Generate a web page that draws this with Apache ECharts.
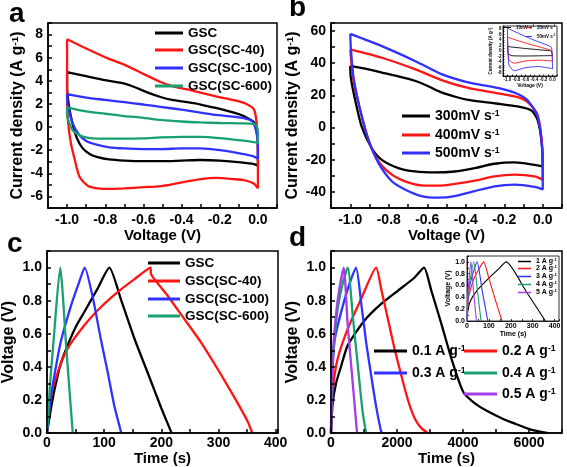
<!DOCTYPE html>
<html><head><meta charset="utf-8">
<script src="https://cdn.jsdelivr.net/npm/echarts@6.0.0/dist/echarts.min.js"></script>
<style>html,body{margin:0;padding:0;background:#fff}#c{width:567px;height:467px}</style>
</head><body><div id="c"></div>
<script>
// ---------- data: panel a (CV, current density vs voltage) ----------
const a_GSC = [[-1.0,4.75],[-0.9,4.4],[-0.8,4.05],[-0.7,3.75],[-0.63,3.35],[-0.58,3.0],[-0.51,2.6],[-0.45,2.35],[-0.37,2.15],[-0.3,1.95],[-0.22,1.65],[-0.15,1.35],[-0.09,1.05],[-0.05,0.75],[-0.02,0.4],[-0.005,-0.5],[0,-2.0],[0,-3.35],[-0.02,-3.2],[-0.09,-3.05],[-0.2,-2.9],[-0.3,-2.85],[-0.4,-2.9],[-0.5,-2.95],[-0.6,-2.95],[-0.7,-2.9],[-0.78,-2.8],[-0.84,-2.6],[-0.88,-2.35],[-0.92,-1.8],[-0.95,-0.9],[-0.97,0.2],[-0.99,1.8],[-1.0,3.5],[-1.0,4.75]];
const a_SC40 = [[-1.0,7.6],[-0.9,6.8],[-0.78,5.9],[-0.7,5.4],[-0.6,4.6],[-0.51,3.9],[-0.44,3.5],[-0.37,3.25],[-0.22,2.65],[-0.12,2.3],[-0.06,2.0],[-0.02,1.5],[-0.005,0],[0,-3],[0,-5.3],[-0.02,-4.9],[-0.07,-4.6],[-0.13,-4.5],[-0.22,-4.4],[-0.3,-4.5],[-0.37,-4.7],[-0.45,-4.95],[-0.51,-5.1],[-0.6,-5.2],[-0.7,-5.3],[-0.78,-5.35],[-0.84,-5.3],[-0.89,-5.1],[-0.935,-4.3],[-0.96,-2.8],[-0.98,-1.4],[-0.995,0.5],[-1.0,3],[-1.0,7.6]];
const a_SC100 = [[-1.0,2.85],[-0.9,2.55],[-0.8,2.35],[-0.7,2.15],[-0.6,1.95],[-0.51,1.75],[-0.4,1.5],[-0.3,1.25],[-0.22,1.05],[-0.13,0.9],[-0.07,0.75],[-0.03,0.5],[-0.01,-0.3],[0,-1.5],[0,-2.75],[-0.02,-2.55],[-0.09,-2.3],[-0.2,-2.0],[-0.3,-1.85],[-0.4,-1.85],[-0.51,-1.9],[-0.6,-1.9],[-0.7,-1.85],[-0.78,-1.75],[-0.85,-1.5],[-0.9,-1.2],[-0.94,-0.6],[-0.97,0.3],[-0.99,1.4],[-1.0,2.3],[-1.0,2.85]];
const a_SC600 = [[-1.0,1.7],[-0.9,1.35],[-0.8,1.15],[-0.7,0.95],[-0.6,0.8],[-0.51,0.62],[-0.4,0.48],[-0.3,0.4],[-0.2,0.35],[-0.1,0.32],[-0.02,0.28],[-0.005,0.0],[0,-0.5],[0,-1.4],[-0.02,-1.3],[-0.09,-1.15],[-0.2,-0.95],[-0.3,-0.85],[-0.4,-0.85],[-0.51,-0.9],[-0.6,-0.97],[-0.7,-1.0],[-0.8,-1.0],[-0.88,-0.95],[-0.93,-0.75],[-0.97,-0.3],[-0.99,0.4],[-1.0,1.0],[-1.0,1.7]];
// ---------- panel b ----------
const b_300 = [[-1.0,38.3],[-0.9,36],[-0.836,34.2],[-0.75,31.8],[-0.664,29.1],[-0.6,26],[-0.526,21.9],[-0.45,19],[-0.388,17.2],[-0.3,15.8],[-0.233,14.8],[-0.13,13.1],[-0.06,10.7],[-0.026,4.5],[-0.005,-9.8],[0,-24.2],[-0.043,-23.2],[-0.147,-21.7],[-0.25,-22.5],[-0.353,-25.2],[-0.457,-27.3],[-0.56,-27.9],[-0.664,-27.3],[-0.75,-25.2],[-0.836,-20.1],[-0.888,-12.9],[-0.94,0.4],[-0.974,16.8],[-0.997,31.1],[-1.0,38.3]];
const b_400 = [[-1.0,48.6],[-0.836,43.4],[-0.664,36.3],[-0.526,29.5],[-0.388,24.6],[-0.233,21.3],[-0.13,18.9],[-0.078,15.8],[-0.026,7.6],[-0.003,-11.9],[0,-32.4],[-0.043,-30.3],[-0.147,-29.3],[-0.25,-30.3],[-0.353,-33],[-0.457,-35],[-0.543,-36.1],[-0.63,-35.9],[-0.716,-33.4],[-0.784,-29.3],[-0.853,-21.1],[-0.905,-7.8],[-0.948,10.7],[-0.983,29.1],[-1.0,48.6]];
const b_500 = [[-1.0,58.2],[-0.836,50.6],[-0.664,41.4],[-0.526,33.2],[-0.388,28.1],[-0.233,24.6],[-0.13,20.9],[-0.078,16.8],[-0.026,6.6],[-0.003,-13.9],[0,-38.5],[-0.043,-36.9],[-0.147,-35.5],[-0.25,-36.5],[-0.353,-39.5],[-0.457,-42.6],[-0.543,-43.6],[-0.63,-42.6],[-0.716,-38.5],[-0.784,-33.4],[-0.853,-22.1],[-0.905,-7.8],[-0.948,10.7],[-0.983,31.1],[-0.997,49.6],[-1.0,58.2]];
// inset b
const ib_10 = [[-1.0,1.6],[-0.6,0.9],[-0.2,0.3],[-0.03,0.0],[0,-1.6],[-0.2,-1.7],[-0.6,-1.8],[-0.9,-1.7],[-0.98,-1.0],[-1.0,1.6]];
const ib_30 = [[-1.0,4.9],[-0.5,2.4],[-0.1,0.6],[-0.02,0.0],[0,-3.6],[-0.3,-3.3],[-0.6,-3.6],[-0.85,-4.4],[-0.97,-3.0],[-1.0,4.9]];
const ib_50 = [[-1.0,8.2],[-0.5,4.5],[-0.1,2.0],[-0.02,1.2],[0,-6.4],[-0.3,-5.6],[-0.6,-6.0],[-0.85,-7.1],[-0.97,-5.0],[-1.0,8.2]];
// ---------- panel c (GCD, voltage vs time) ----------
const c_GSC = [[0,0],[7,0.15],[13,0.26],[24,0.42],[36,0.53],[50,0.64],[65,0.73],[88,0.87],[109,1.0],[130,0.8],[153,0.57],[180,0.33],[200,0.15],[218,0]];
const c_SC40 = [[0,0],[7,0.22],[19,0.37],[36,0.51],[65,0.65],[94,0.76],[123,0.85],[153,0.93],[181,1.0],[182,0.96],[211,0.83],[240,0.69],[269,0.55],[298,0.39],[327,0.22],[351,0.07],[359,0]];
const c_SC100 = [[0,0],[6,0.2],[13,0.35],[24,0.55],[42,0.77],[55,0.9],[66,1.0],[80,0.82],[94,0.57],[106,0.37],[118,0.16],[130,0]];
const c_SC600 = [[0,0],[5,0.28],[12,0.58],[23,1.0],[34,0.5],[45,0]];
// ---------- panel d ----------
const d_01 = [[0,0],[50,0.18],[152,0.3],[300,0.4],[507,0.53],[1014,0.68],[1520,0.78],[2027,0.86],[2534,0.94],[2818,1.0],[3041,0.86],[3345,0.66],[3649,0.45],[4004,0.25],[4359,0.18],[4764,0.13],[5170,0.09],[5575,0.057],[6082,0.02],[6589,0]];
const d_02 = [[0,0],[50,0.25],[203,0.45],[507,0.63],[912,0.81],[1369,1.0],[1521,0.87],[1723,0.69],[1926,0.51],[2129,0.35],[2331,0.2],[2534,0.09],[2737,0.03],[2940,0]];
const d_03 = [[0,0],[30,0.3],[101,0.55],[253,0.69],[507,0.87],[760,1.0],[912,0.79],[1064,0.55],[1216,0.35],[1368,0.16],[1520,0.01],[1571,0]];
const d_04 = [[0,0],[30,0.35],[100,0.55],[203,0.75],[350,0.9],[507,1.0],[659,0.71],[811,0.41],[963,0.12],[1064,0]];
const d_05 = [[0,0],[30,0.4],[100,0.6],[200,0.8],[385,1.0],[507,0.65],[659,0.3],[790,0]];
// inset d
const id_1 = [[0,0],[5,0.2],[18,0.36],[49,0.53],[95,0.71],[141,0.87],[179,1.0],[270,0.5],[358,0]];
const id_2 = [[0,0],[3,0.25],[10,0.45],[30,0.7],[50,0.85],[76,1.0],[100,0.72],[130,0.35],[160,0]];
const id_3 = [[0,0],[3,0.3],[10,0.55],[25,0.78],[46,1.0],[70,0.5],[95,0]];
const id_4 = [[0,0],[3,0.35],[10,0.6],[31,1.0],[48,0.5],[64,0]];
const id_5 = [[0,0],[3,0.4],[8,0.65],[18,1.0],[30,0.5],[43,0]];

// names
const namesA = ['GSC','GSC(SC-40)','GSC(SC-100)','GSC(SC-600)'];
const namesB = ['300mV s-1','400mV s-1','500mV s-1'];
const namesIB = ['10mV s-1','30mV s-1','50mV s-1'];
const namesC = ['GSC ','GSC(SC-40) ','GSC(SC-100) ','GSC(SC-600) '];
const namesD = ['0.1 A g-1','0.2 A g-1','0.3 A g-1','0.4 A g-1','0.5 A g-1'];
const namesID = ['1 A g-1','2 A g-1','3 A g-1','4 A g-1','5 A g-1'];

const FONT = 'Liberation Sans';
const BLACK = '#000000', RED = '#ff1414', BLUE = '#3030ff', GREEN = '#18a070', PURPLE = '#a33ee6';

function fmtEvery(step, dec) {
  return function (v) {
    const k = Math.round(v / step * 1e6) / 1e6;
    if (!Number.isInteger(k)) return '';
    const r = Math.abs(v) < 1e-9 ? 0 : v;
    return r.toFixed(dec);
  };
}
function rich(fs) {
  return { sup: { fontSize: fs * 0.62, fontWeight: 'bold', fontFamily: FONT, color: '#000', verticalAlign: 'top', lineHeight: fs } };
}
function vAxis(o) {
  return {
    type: 'value', gridIndex: o.g, min: o.min, max: o.max, interval: o.interval,
    axisLine: { show: true, onZero: false, lineStyle: { color: '#000', width: o.lw } },
    axisTick: { show: true, inside: true, length: o.tl, lineStyle: { color: '#000', width: o.lw } },
    splitLine: { show: false },
    axisLabel: { color: '#000', fontFamily: FONT, fontWeight: 'bold', fontSize: o.fs, margin: o.margin,
      formatter: o.fmt, showMinLabel: true, showMaxLabel: true },
    name: o.name, nameLocation: 'middle', nameGap: o.nameGap,
    nameTextStyle: { color: '#000', fontFamily: FONT, fontWeight: 'bold', fontSize: o.nfs, rich: rich(o.nfs) },
    z: o.z || 3
  };
}
function ser(name, data, color, idx, width, z, smooth) {
  return { name, type: 'line', xAxisIndex: idx, yAxisIndex: idx, data, showSymbol: false, symbol: 'none',
    smooth: smooth, lineStyle: { color, width }, itemStyle: { color }, z: z || 2, silent: true, animation: false };
}
function leg(name, left, top, fs, iw, ih) {
  return { data: [name], left, top, padding: 0, icon: 'rect', itemWidth: iw, itemHeight: ih, selectedMode: false,
    textStyle: { color: '#000', fontFamily: FONT, fontWeight: 'bold', fontSize: fs, rich: rich(fs), padding: [0,0,0,0] },
    formatter: n => n.trim().replace(/-1$/, '{sup|-1}'), z: 20 };
}

const option = {
  animation: false,
  backgroundColor: '#fff',
  grid: [
    { left: 48, top: 23, width: 229, height: 185, show: true, borderColor: '#000', borderWidth: 1.5, backgroundColor: 'transparent' },
    { left: 331, top: 23, width: 231, height: 185, show: true, borderColor: '#000', borderWidth: 1.5, backgroundColor: 'transparent' },
    { left: 47, top: 251, width: 231, height: 183, show: true, borderColor: '#000', borderWidth: 1.5, backgroundColor: 'transparent' },
    { left: 331, top: 251, width: 231, height: 183, show: true, borderColor: '#000', borderWidth: 1.5, backgroundColor: 'transparent' },
    { left: 503, top: 26, width: 54, height: 50, show: true, borderColor: '#000', borderWidth: 0.8, backgroundColor: '#fff', z: 10 },
    { left: 467, top: 256, width: 92, height: 65, show: true, borderColor: '#000', borderWidth: 0.8, backgroundColor: '#fff', z: 10 }
  ],
  xAxis: [
    vAxis({ g: 0, min: -1.1, max: 0.1, interval: 0.1, lw: 1.5, tl: 4, fs: 14, margin: 5, fmt: fmtEvery(0.2, 1), name: 'Voltage (V)', nameGap: 15, nfs: 15 }),
    vAxis({ g: 1, min: -1.1, max: 0.1, interval: 0.1, lw: 1.5, tl: 4, fs: 14, margin: 5, fmt: fmtEvery(0.2, 1), name: 'Voltage (V)', nameGap: 15, nfs: 15 }),
    vAxis({ g: 2, min: 0, max: 404, interval: 50, lw: 1.5, tl: 4, fs: 14, margin: 3, fmt: fmtEvery(100, 0), name: 'Time (s)', nameGap: 15, nfs: 15 }),
    vAxis({ g: 3, min: 0, max: 7000, interval: 1000, lw: 1.5, tl: 4, fs: 14, margin: 3, fmt: fmtEvery(2000, 0), name: 'Time (s)', nameGap: 15, nfs: 15 }),
    vAxis({ g: 4, min: -1.1, max: 0.1, interval: 0.1, lw: 0.8, tl: 1.5, fs: 4.5, margin: 1.5, fmt: fmtEvery(0.2, 1), name: 'Voltage (V)', nameGap: 6, nfs: 5, z: 11 }),
    vAxis({ g: 5, min: 0, max: 420, interval: 50, lw: 0.8, tl: 2, fs: 7, margin: 2, fmt: fmtEvery(100, 0), name: 'Time (s)', nameGap: 9, nfs: 7, z: 11 })
  ],
  yAxis: [
    vAxis({ g: 0, min: -7, max: 9, interval: 1, lw: 1.5, tl: 4, fs: 14, margin: 5, fmt: fmtEvery(2, 0), name: 'Current density (A g{sup|-1})', nameGap: 22, nfs: 16 }),
    vAxis({ g: 1, min: -50, max: 65, interval: 10, lw: 1.5, tl: 4, fs: 14, margin: 5, fmt: fmtEvery(20, 0), name: 'Current density (A g{sup|-1})', nameGap: 30, nfs: 16 }),
    vAxis({ g: 2, min: 0, max: 1.1, interval: 0.1, lw: 1.5, tl: 4, fs: 14, margin: 5, fmt: fmtEvery(0.2, 1), name: 'Voltage (V)', nameGap: 30, nfs: 16 }),
    vAxis({ g: 3, min: 0, max: 1.1, interval: 0.1, lw: 1.5, tl: 4, fs: 14, margin: 5, fmt: fmtEvery(0.2, 1), name: 'Voltage (V)', nameGap: 30, nfs: 16 }),
    vAxis({ g: 4, min: -9, max: 9, interval: 1, lw: 0.8, tl: 1.5, fs: 4.5, margin: 1.5, fmt: fmtEvery(2, 0), name: 'Current density (A g{sup|-1})', nameGap: 6, nfs: 4.5, z: 11 }),
    vAxis({ g: 5, min: 0, max: 1.1, interval: 0.1, lw: 0.8, tl: 2, fs: 7, margin: 2, fmt: fmtEvery(0.2, 1), name: 'Voltage (V)', nameGap: 13, nfs: 7, z: 11 })
  ],
  legend: [
    leg(namesA[0], 155, 26, 13.5, 28, 3), leg(namesA[1], 155, 43, 13.5, 28, 3), leg(namesA[2], 155, 61, 13.5, 28, 3), leg(namesA[3], 155, 79, 13.5, 28, 3),
    leg(namesB[0], 402, 109, 14, 28, 3), leg(namesB[1], 402, 128, 14, 28, 3), leg(namesB[2], 402, 146, 14, 28, 3),
    leg(namesIB[0], 504, 25, 4.5, 7, 1), leg(namesIB[1], 525, 25, 4.5, 7, 1), leg(namesIB[2], 525, 34, 4.5, 7, 1),
    leg(namesC[0], 148, 256, 13.5, 32, 3), leg(namesC[1], 148, 274, 13.5, 32, 3), leg(namesC[2], 148, 292, 13.5, 32, 3), leg(namesC[3], 148, 309, 13.5, 32, 3),
    leg(namesD[0], 374, 344, 14, 33, 3), leg(namesD[1], 464, 344, 14, 33, 3), leg(namesD[2], 374, 366, 14, 33, 3), leg(namesD[3], 464, 366, 14, 33, 3), leg(namesD[4], 464, 387, 14, 33, 3),
    leg(namesID[0], 518, 258, 7, 13, 1.5), leg(namesID[1], 518, 265, 7, 13, 1.5), leg(namesID[2], 518, 273, 7, 13, 1.5), leg(namesID[3], 518, 281, 7, 13, 1.5), leg(namesID[4], 518, 289, 7, 13, 1.5)
  ],
  series: [
    ser(namesA[0], a_GSC, BLACK, 0, 2.3, 2, 0.25),
    ser(namesA[1], a_SC40, RED, 0, 2.3, 2, 0.25),
    ser(namesA[2], a_SC100, BLUE, 0, 2.3, 2, 0.25),
    ser(namesA[3], a_SC600, GREEN, 0, 2.3, 2, 0.25),
    ser(namesB[0], b_300, BLACK, 1, 2.3, 2, 0.25),
    ser(namesB[1], b_400, RED, 1, 2.3, 2, 0.25),
    ser(namesB[2], b_500, BLUE, 1, 2.3, 2, 0.25),
    ser(namesC[0], c_GSC, BLACK, 2, 2.3, 2, 0.2),
    ser(namesC[1], c_SC40, RED, 2, 2.3, 2, 0.2),
    ser(namesC[2], c_SC100, BLUE, 2, 2.3, 2, 0.2),
    ser(namesC[3], c_SC600, GREEN, 2, 2.3, 2, 0.2),
    ser(namesD[0], d_01, BLACK, 3, 2.3, 2, 0.2),
    ser(namesD[1], d_02, RED, 3, 2.3, 2, 0.2),
    ser(namesD[2], d_03, BLUE, 3, 2.3, 2, 0.2),
    ser(namesD[3], d_04, GREEN, 3, 2.3, 2, 0.2),
    ser(namesD[4], d_05, PURPLE, 3, 2.3, 2, 0.2),
    ser(namesIB[0], ib_10, BLACK, 4, 0.9, 12, 0.2),
    ser(namesIB[1], ib_30, RED, 4, 0.9, 12, 0.2),
    ser(namesIB[2], ib_50, BLUE, 4, 0.9, 12, 0.2),
    ser(namesID[0], id_1, BLACK, 5, 1.1, 12, 0.2),
    ser(namesID[1], id_2, RED, 5, 1.1, 12, 0.2),
    ser(namesID[2], id_3, BLUE, 5, 1.1, 12, 0.2),
    ser(namesID[3], id_4, GREEN, 5, 1.1, 12, 0.2),
    ser(namesID[4], id_5, PURPLE, 5, 1.1, 12, 0.2)
  ],
  graphic: [
    { type: 'text', left: 9, top: 0, style: { text: 'a', font: 'bold 28px "Liberation Sans"', fill: '#000' } },
    { type: 'text', left: 289, top: -6, style: { text: 'b', font: 'bold 28px "Liberation Sans"', fill: '#000' } },
    { type: 'text', left: 7, top: 230, style: { text: 'c', font: 'bold 28px "Liberation Sans"', fill: '#000' } },
    { type: 'text', left: 289, top: 224, style: { text: 'd', font: 'bold 28px "Liberation Sans"', fill: '#000' } }
  ]
};
const chart = echarts.init(document.getElementById('c'), null, { renderer: 'canvas' });
chart.setOption(option);
</script></body></html>
